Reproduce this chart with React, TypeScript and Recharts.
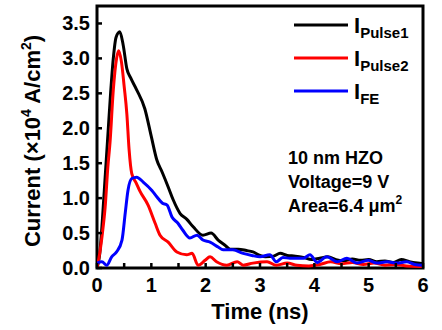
import React from "react";
import {
  LineChart,
  Line,
  XAxis,
  YAxis,
  Legend,
  ReferenceArea,
} from "recharts";

// time (ns) and current density (x10^4 A/cm^2)
const pulse1Time = [
  0, 0.05, 0.1, 0.15, 0.2, 0.25, 0.3, 0.35, 0.42, 0.48, 0.55, 0.62, 0.73, 0.88,
  1.0, 1.1, 1.2, 1.31, 1.4, 1.53, 1.65, 1.77, 1.95, 2.1, 2.23, 2.35, 2.45, 2.6,
  2.75, 2.87, 3.0, 3.1, 3.25, 3.37, 3.5, 3.65, 3.8, 3.95, 4.1, 4.25, 4.4, 4.55,
  4.7, 4.85, 5.0, 5.15, 5.3, 5.45, 5.6, 5.75, 5.9, 6.0,
];
const pulse1Values = [
  0, 0.2, 0.7, 1.3, 1.9, 2.5, 3.0, 3.3, 3.38, 3.2, 2.85, 2.72, 2.55, 2.28, 1.88,
  1.55, 1.37, 1.16, 0.98, 0.78, 0.7, 0.59, 0.47, 0.5, 0.4, 0.33, 0.27, 0.27,
  0.25, 0.23, 0.18, 0.16, 0.17, 0.21, 0.18, 0.17, 0.15, 0.12, 0.14, 0.16, 0.12,
  0.1, 0.13, 0.11, 0.12, 0.09, 0.1, 0.08, 0.12, 0.09, 0.07, 0.06,
];

const pulse2Time = [
  0, 0.06, 0.1, 0.15, 0.2, 0.24, 0.3, 0.36, 0.4, 0.45, 0.5, 0.55, 0.59, 0.64,
  0.72, 0.79, 0.94, 1.07, 1.16, 1.31, 1.47, 1.65, 1.75, 1.86, 1.99, 2.08, 2.2,
  2.39, 2.58, 2.69, 2.87, 3.13, 3.3, 3.5, 3.68, 3.9, 4.1, 4.3, 4.5, 4.7, 4.9,
  5.1, 5.3, 5.5, 5.7, 6.0,
];
const pulse2Values = [
  0, 0.26, 0.5, 0.87, 1.45, 1.8, 2.55, 3.0, 3.11, 2.95, 2.6, 2.2, 1.7, 1.35,
  1.22, 1.1, 0.9, 0.64, 0.47, 0.37, 0.23, 0.19, 0.21, 0.04, 0.11, 0.16, 0.09,
  0.04, 0.09, 0.04, 0.07, 0.09, 0.04, 0.07, 0.04, 0.03, 0.05, 0.09, 0.06, 0.08,
  0.05, 0.07, 0.04, 0.05, 0.03, 0.02,
];

const feTime = [
  0, 0.09, 0.18, 0.27, 0.36, 0.46, 0.52, 0.57, 0.64, 0.73, 0.85, 1.01, 1.1, 1.2,
  1.29, 1.38, 1.49, 1.58, 1.71, 1.84, 1.95, 2.08, 2.23, 2.32, 2.5, 2.69, 2.85,
  3.0, 3.18, 3.3, 3.42, 3.55, 3.8, 3.92, 4.05, 4.23, 4.42, 4.6, 4.79, 4.99,
  5.15, 5.34, 5.52, 5.7, 5.85, 6.0,
];
const feValues = [
  0.07, 0.09, 0.04, 0.16, 0.23, 0.4, 0.79, 1.11, 1.28, 1.3, 1.23, 1.11, 1.02,
  0.93, 0.9, 0.73, 0.64, 0.54, 0.43, 0.47, 0.4, 0.37, 0.3, 0.26, 0.26, 0.21,
  0.18, 0.16, 0.19, 0.09, 0.15, 0.14, 0.14, 0.19, 0.08, 0.16, 0.09, 0.14, 0.07,
  0.11, 0.07, 0.09, 0.07, 0.09, 0.05, 0.04,
];

const seriesNames = ["Pulse1", "Pulse2", "FE"];
const xTicks = [0, 0.5, 1, 1.5, 2, 2.5, 3, 3.5, 4, 4.5, 5, 5.5, 6];
const yTicks = [0, 0.5, 1, 1.5, 2, 2.5, 3, 3.5];
const yMax = 3.75;

const zip = (t: number[], v: number[]) => t.map((x, i) => ({ t: x, v: v[i] }));

const pulse1Data = zip(pulse1Time, pulse1Values);
const pulse2Data = zip(pulse2Time, pulse2Values);
const feData = zip(feTime, feValues);

const FONT = "'Liberation Sans', Arial, sans-serif";

const XTick = ({ x, y, payload }: any) => {
  const v = payload.value;
  const major = Number.isInteger(v);
  return (
    <g>
      <line x1={x} x2={x} y1={y} y2={y - 5} stroke="#000" strokeWidth={2.5} />
      {major && (
        <text
          x={x}
          y={y + 24}
          textAnchor="middle"
          fontSize={20}
          fontWeight="bold"
          fontFamily={FONT}
          fill="#000"
        >
          {v}
        </text>
      )}
    </g>
  );
};

const YTick = ({ x, y, payload }: any) => (
  <g>
    <line x1={x} x2={x + 5} y1={y} y2={y} stroke="#000" strokeWidth={2.5} />
    <text
      x={x - 7}
      y={y + 7}
      textAnchor="end"
      fontSize={20}
      fontWeight="bold"
      fontFamily={FONT}
      fill="#000"
    >
      {payload.value.toFixed(1)}
    </text>
  </g>
);

const LegendBox = ({ payload }: any) => {
  const items = [...(payload || [])].sort(
    (a: any, b: any) => seriesNames.indexOf(a.value) - seriesNames.indexOf(b.value)
  );
  return (
    <svg width={442} height={330} style={{ position: "absolute", left: 0, top: 0 }}>
      {items.map((p: any, i: number) => {
        const ly = 25 + i * 33;
        return (
          <g key={p.value}>
            <line x1={294} x2={348} y1={ly} y2={ly} stroke={p.color} strokeWidth={3} />
            <text x={354} y={ly + 8} fontFamily={FONT} fontWeight="bold" fill="#000">
              <tspan fontSize={22}>I</tspan>
              <tspan fontSize={15} dy={5}>
                {p.value}
              </tspan>
            </text>
          </g>
        );
      })}
    </svg>
  );
};

export default function App() {
  return (
    <div
      style={{
        position: "absolute",
        left: 0,
        top: 0,
        width: 442,
        height: 330,
        background: "#fff",
      }}
    >
      <LineChart
        width={442}
        height={330}
        margin={{ top: 6, right: 19, bottom: 61, left: 96 }}
      >
        <XAxis
          type="number"
          dataKey="t"
          domain={[0, 6]}
          ticks={xTicks}
          height={1}
          axisLine={false}
          tickLine={false}
          tickSize={0}
          tickMargin={0}
          tick={<XTick />}
          interval={0}
          allowDataOverflow
        />
        <YAxis
          type="number"
          domain={[0, yMax]}
          ticks={yTicks}
          width={1}
          axisLine={false}
          tickLine={false}
          tickSize={0}
          tickMargin={0}
          tick={<YTick />}
          interval={0}
          allowDataOverflow
        />
        <Line
          data={pulse1Data}
          dataKey="v"
          name="Pulse1"
          type="monotone"
          stroke="#000000"
          strokeWidth={3}
          dot={false}
          isAnimationActive={false}
        />
        <Line
          data={pulse2Data}
          dataKey="v"
          name="Pulse2"
          type="monotone"
          stroke="#ff0000"
          strokeWidth={3}
          dot={false}
          isAnimationActive={false}
        />
        <Line
          data={feData}
          dataKey="v"
          name="FE"
          type="monotone"
          stroke="#0000ff"
          strokeWidth={3}
          dot={false}
          isAnimationActive={false}
        />
        <ReferenceArea
          x1={0}
          x2={6}
          y1={0}
          y2={yMax}
          fill="none"
          stroke="#000"
          strokeWidth={3}
          ifOverflow="visible"
        />
        <Legend
          layout="horizontal"
          verticalAlign="middle"
          align="center"
          content={<LegendBox />}
          wrapperStyle={{ left: 0, top: 0, width: 442, height: 330, pointerEvents: "none" }}
        />
      </LineChart>
      <svg
        width={442}
        height={330}
        style={{ position: "absolute", left: 0, top: 0, pointerEvents: "none" }}
        fontFamily={FONT}
        fontWeight="bold"
        fill="#000"
      >
        <text x={288} y={164} fontSize={18}>10 nm HZO</text>
        <text x={288} y={188} fontSize={18}>Voltage=9 V</text>
        <text x={288} y={212} fontSize={18}>
          Area=6.4 μm
          <tspan fontSize={12} dy={-8}>2</tspan>
        </text>
        <text x={260} y={319} fontSize={22} textAnchor="middle">
          Time (ns)
        </text>
        <text
          transform="translate(40,141) rotate(-90)"
          fontSize={22}
          textAnchor="middle"
        >
          Current (×10
          <tspan fontSize={14} dy={-9}>4</tspan>
          <tspan dy={9}> A/cm</tspan>
          <tspan fontSize={14} dy={-9}>2</tspan>
          <tspan dy={9}>)</tspan>
        </text>
      </svg>
    </div>
  );
}
